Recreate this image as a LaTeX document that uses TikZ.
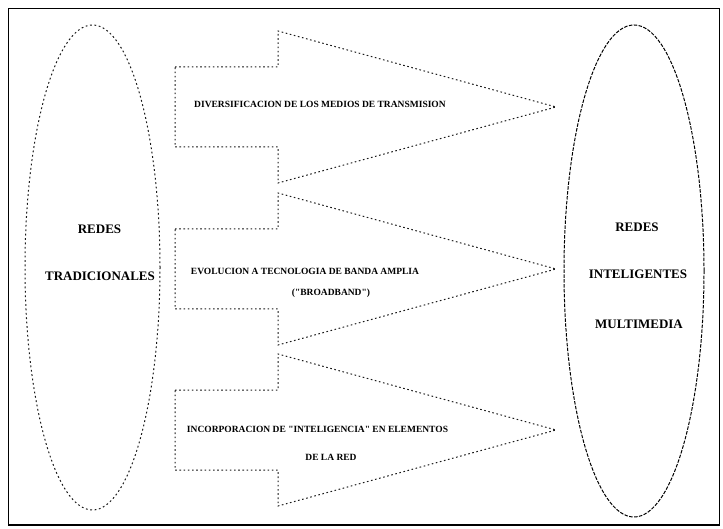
\documentclass[tikz,border=0pt]{standalone}
\usepackage{fontspec}
\setmainfont{Liberation Serif}[Ligatures=TeXOff]
\usetikzlibrary{shapes.geometric}
\begin{document}
\begin{tikzpicture}[x=1pt,y=-1pt,
  frame/.style={line width=1.8pt},
  netleft/.style={ellipse, draw, inner sep=0pt, line width=1pt, black!90,
    dash pattern=on 1.8pt off 2.6pt},
  netright/.style={ellipse, draw, inner sep=0pt, line width=1pt, black,
    dash pattern=on 3.5pt off 1.4pt},
  trend/.style={line width=1pt, black!90, dash pattern=on 1.6pt off 2.6pt,
    line join=miter},
  theme/.style={font=\bfseries\fontsize{9.5}{11}\selectfont, inner sep=0pt, anchor=base},
  netname/.style={font=\bfseries\fontsize{13}{15}\selectfont, inner sep=0pt, anchor=base}]

\useasboundingbox (0,0) rectangle (723,529);
\draw[frame] (8.5,8.5) rectangle (719.5,525);

% the two families of networks
\node[netleft,  minimum width=135pt, minimum height=485pt] (trad) at (92.5,267.5) {};
\node[netright, minimum width=140pt, minimum height=492pt] (intel) at (634,271) {};

\node[netname] (tradA) at (99.5,234) {REDES};
\node[netname] (tradB) at (100,281) {TRADICIONALES};
\node[netname] (intelA) at (637,232) {REDES};
\node[netname] (intelB) at (638,279) {INTELIGENTES};
\node[netname] (intelC) at (639,329) {MULTIMEDIA};

% three block arrows: shaft from x=175 to 278, head tip at x=556
\foreach \name/\c in {diver/107, broad/269, intel/430}{
  \coordinate (\name-tail) at (175,\c);
  \coordinate (\name-tip) at (556,\c);
  \draw[trend] (175,\c-40) -- (278,\c-40) -- (278,\c-76) -- (\name-tip)
    -- (278,\c+76) -- (278,\c+40) -- (175,\c+40) -- cycle;
}

\node[theme] (t1) at (320,108) {DIVERSIFICACION DE LOS MEDIOS DE TRANSMISION};
\node[theme] (t2) at (305,275) {EVOLUCION A TECNOLOGIA DE BANDA AMPLIA};
\node[theme] (t2b) at (331,296) {("BROADBAND")};
\node[theme] (t3) at (317.5,432) {INCORPORACION DE "INTELIGENCIA" EN ELEMENTOS};
\node[theme] (t3b) at (331,460) {DE LA RED};

\end{tikzpicture}
\end{document}
